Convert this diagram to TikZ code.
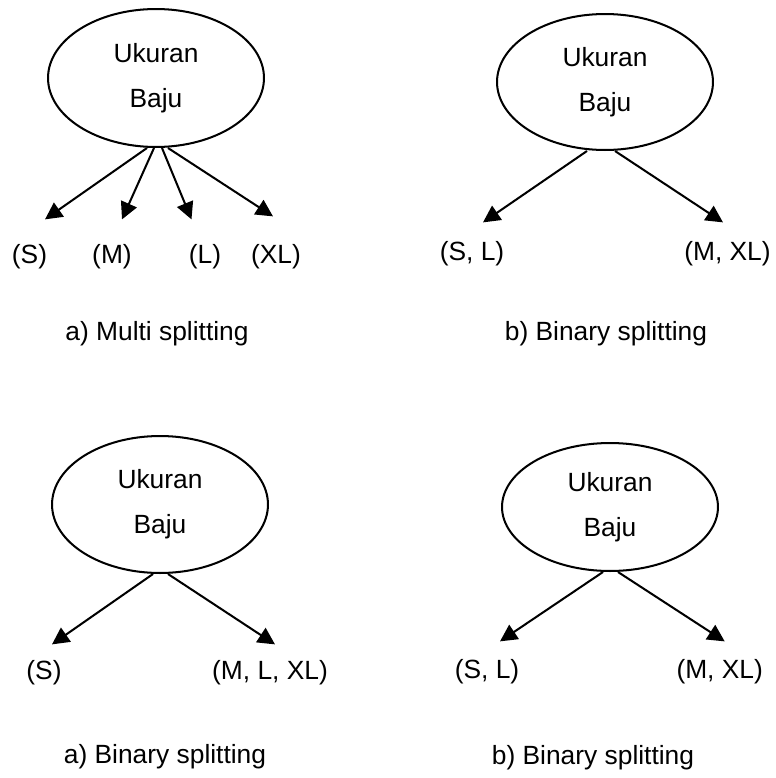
\documentclass[tikz,border=0pt]{standalone}
\usepackage{fontspec}
\setmainfont{Liberation Sans}
\usetikzlibrary{shapes.geometric, arrows.meta, calc}

\begin{document}
\begin{tikzpicture}[
    x=0.02cm, y=-0.02cm,
    >={Triangle[length=0.34cm, width=0.34cm]},
    attr/.style={draw, ellipse, line width=1.15pt, minimum width=4.32cm, minimum height=#1, inner sep=0pt, align=center, font=\fontsize{15}{25.6}\selectfont},
    val/.style={inner sep=0pt, font=\fontsize{15}{18}\selectfont},
    caption/.style={inner sep=0pt, font=\fontsize{15}{18}\selectfont},
    arr/.style={->, line width=1.15pt},
]
\useasboundingbox (0,0) rectangle (775,778);

% ── a) Multi splitting ──
\node[attr=2.76cm] (ua) at (156,78) {Ukuran\\Baju};
\node[val] (as) at (29.5,257) {(S)};
\node[val] (am) at (112,257) {(M)};
\node[val] (al) at (205,257) {(L)};
\node[val] (axl) at (276,257) {(XL)};
\node[caption] (capa) at (157,334) {a) Multi splitting};

\draw[arr] ($(ua.south)+(-9,0)$) -- ($(as.north)+(15.5,-25)$);
\draw[arr] ($(ua.south)+(-2,0)$) -- ($(am.north)+(10,-25)$);
\draw[arr] ($(ua.south)+(6,0)$) -- ($(al.north)+(-13.5,-25)$);
\draw[arr] ($(ua.south)+(12,0)$) -- ($(axl.north)+(-3,-28)$);

% ── b) Binary splitting ──
\node[attr=2.72cm] (ub) at (605,82) {Ukuran\\Baju};
\node[val] (bsl) at (472,253.5) {(S, L)};
\node[val] (bmxl) at (727.5,253.5) {(M, XL)};
\node[caption] (capb) at (606,334) {b) Binary splitting};

\draw[arr] ($(ub.south)+(-18,0)$) -- ($(bsl.north)+(11,-18.5)$);
\draw[arr] ($(ub.south)+(10,0)$) -- ($(bmxl.north)+(-4.5,-18.5)$);

% ── a) Binary splitting ──
\node[attr=2.74cm] (uc) at (160,504.5) {Ukuran\\Baju};
\node[val] (cs) at (44,673) {(S)};
\node[val] (cmlxl) at (270,673) {(M, L, XL)};
\node[caption] (capc) at (165,757) {a) Binary splitting};

\draw[arr] ($(uc.south)+(-7,0)$) -- ($(cs.north)+(8,-16)$);
\draw[arr] ($(uc.south)+(8,0)$) -- ($(cmlxl.north)+(5,-16)$);

% ── b) Binary splitting ──
\node[attr=2.56cm] (ud) at (610,507) {Ukuran\\Baju};
\node[val] (dsl) at (487,672) {(S, L)};
\node[val] (dmxl) at (719.7,672) {(M, XL)};
\node[caption] (capd) at (593,758) {b) Binary splitting};

\draw[arr] ($(ud.south)+(-7,0)$) -- ($(dsl.north)+(13,-18)$);
\draw[arr] ($(ud.south)+(8,0)$) -- ($(dmxl.north)+(5,-18)$);

\end{tikzpicture}
\end{document}
